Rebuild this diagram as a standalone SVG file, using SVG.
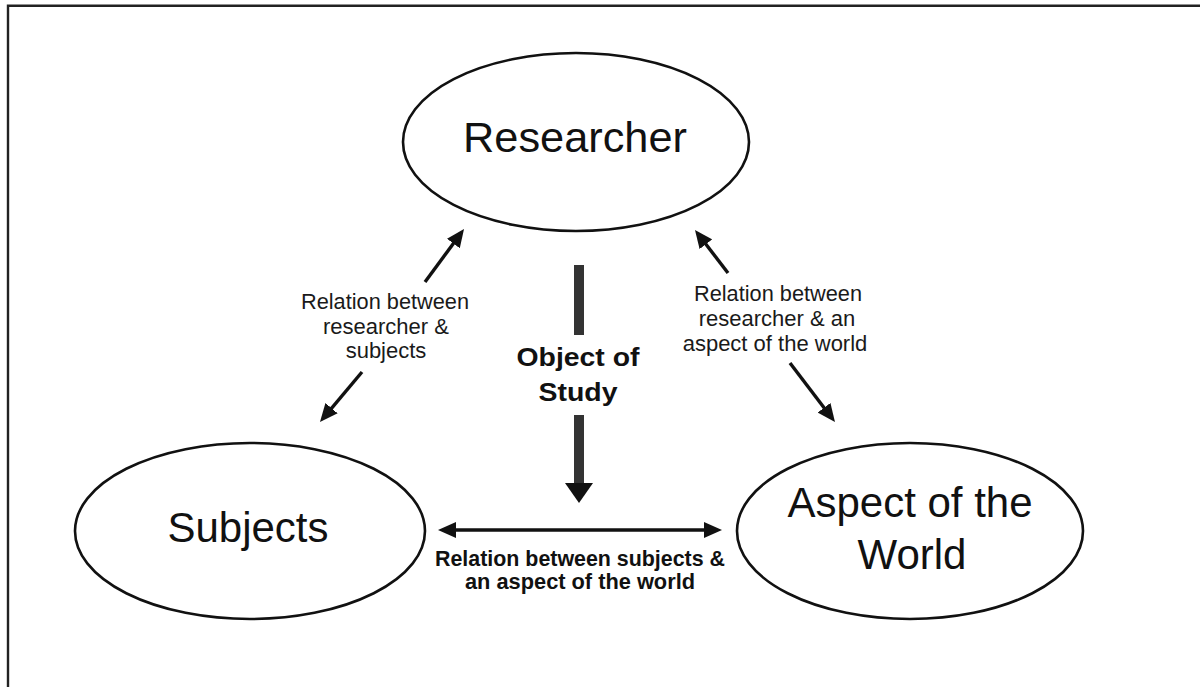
<svg xmlns="http://www.w3.org/2000/svg" width="1200" height="687" viewBox="0 0 1200 687">
  <style>
    .node { fill: #ffffff; stroke: #111111; stroke-width: 2.6; }
    .big { font-family: "Liberation Sans", Arial, sans-serif; font-size: 42px; fill: #111111; text-anchor: middle; }
    .small { font-family: "Liberation Sans", Arial, sans-serif; font-size: 22px; fill: #1a1a1a; text-anchor: middle; }
    .bold { font-family: "Liberation Sans", Arial, sans-serif; font-weight: bold; fill: #111111; text-anchor: middle; }
    .link { stroke: #111111; stroke-width: 3.4; fill: none; }
    .bar { fill: #333333; }
  </style>
  <defs>
    <marker id="head" viewBox="0 0 18 16" markerWidth="18" markerHeight="16" refX="6" refY="8" orient="auto-start-reverse" markerUnits="userSpaceOnUse">
      <path d="M0,0 L18,8 L0,16 Z" fill="#111111"/>
    </marker>
  </defs>

  <rect width="1200" height="687" fill="#ffffff"/>
  <!-- outer frame (left and top edges) -->
  <path d="M8,687 V5.8 H1200" fill="none" stroke="#222222" stroke-width="2.4"/>

  <g id="researcher">
    <ellipse class="node" cx="576" cy="142" rx="173" ry="89"/>
    <text class="big" x="575" y="152" textLength="224" lengthAdjust="spacingAndGlyphs">Researcher</text>
  </g>

  <g id="subjects">
    <ellipse class="node" cx="250" cy="531" rx="175" ry="88"/>
    <text class="big" x="248" y="542">Subjects</text>
  </g>

  <g id="aspect">
    <ellipse class="node" cx="910" cy="531" rx="173" ry="88"/>
    <text class="big" x="910" y="517">Aspect of the</text>
    <text class="big" x="912" y="569">World</text>
  </g>

  <g id="connectors">
    <!-- researcher <-> subjects -->
    <line class="link" x1="425" y1="282" x2="456.9" y2="238.7" marker-end="url(#head)"/>
    <line class="link" x1="362" y1="372" x2="327.7" y2="412.8" marker-end="url(#head)"/>
    <!-- researcher <-> aspect of the world -->
    <line class="link" x1="728" y1="273" x2="702.3" y2="239.5" marker-end="url(#head)"/>
    <line class="link" x1="790" y1="363" x2="827.7" y2="412.5" marker-end="url(#head)"/>
    <!-- subjects <-> aspect of the world -->
    <line class="link" x1="450" y1="530" x2="710" y2="530" marker-start="url(#head)" marker-end="url(#head)"/>
    <!-- object of study -->
    <rect class="bar" x="574" y="265" width="10" height="70"/>
    <rect class="bar" x="574" y="415" width="10" height="70"/>
    <path d="M565,483 L593,483 L579,503 Z" fill="#111111"/>
  </g>

  <g id="labels">
    <text class="small" x="385" y="309" textLength="168" lengthAdjust="spacingAndGlyphs">Relation between</text>
    <text class="small" x="386" y="334">researcher &amp;</text>
    <text class="small" x="386" y="358">subjects</text>

    <text class="small" x="778" y="301" textLength="168" lengthAdjust="spacingAndGlyphs">Relation between</text>
    <text class="small" x="777" y="326">researcher &amp; an</text>
    <text class="small" x="775" y="351">aspect of the world</text>

    <text class="bold" x="578" y="366" font-size="26" textLength="123" lengthAdjust="spacingAndGlyphs">Object of</text>
    <text class="bold" x="578" y="401" font-size="26" textLength="79" lengthAdjust="spacingAndGlyphs">Study</text>

    <text class="bold" x="580" y="566" font-size="22" textLength="290" lengthAdjust="spacingAndGlyphs">Relation between subjects &amp;</text>
    <text class="bold" x="580" y="589" font-size="22" textLength="230" lengthAdjust="spacingAndGlyphs">an aspect of the world</text>
  </g>
</svg>
